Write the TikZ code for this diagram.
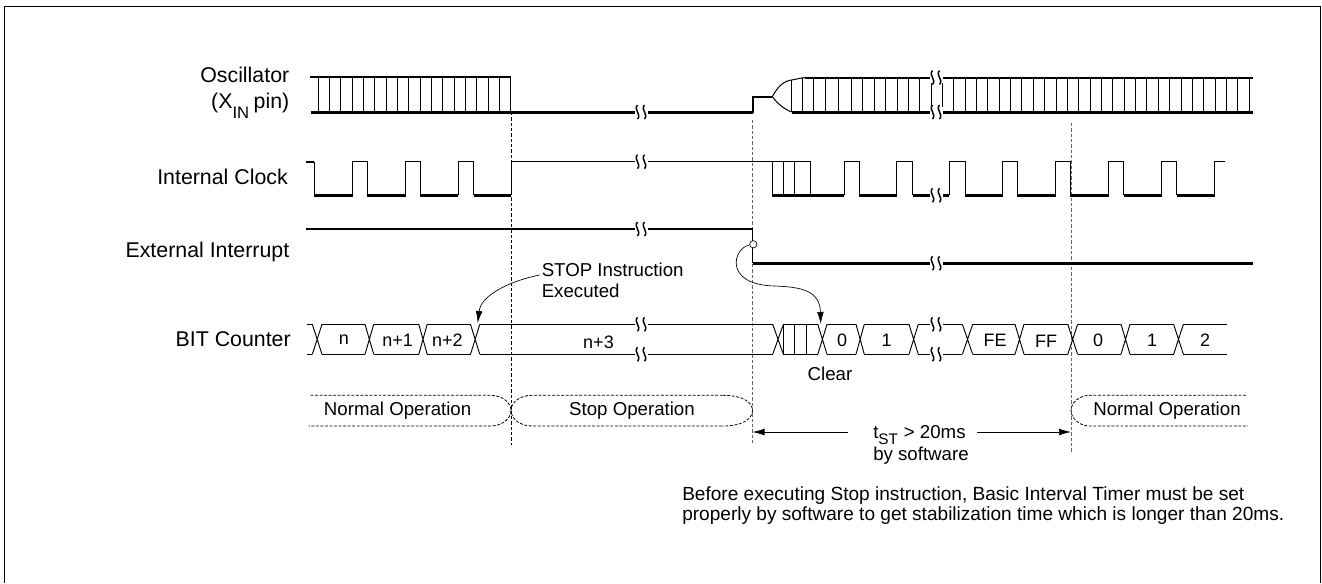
\documentclass[tikz,border=0pt]{standalone}
\usepackage{fontspec}
\setmainfont{Liberation Sans}
\usetikzlibrary{arrows.meta, calc}

\newcommand{\wavebreak}[2]{%
    \fill[white] (#1-6,#2-5) rectangle (#1+6.5,#2+5);
    \draw[breakline] (#1-3.5,#2-7) .. controls (#1-8,#2-2) and (#1+1,#2+2) .. (#1-3.5,#2+7);
    \draw[breakline] (#1+3.5,#2-7) .. controls (#1-1,#2-2) and (#1+8,#2+2) .. (#1+3.5,#2+7);
}
\newcommand{\buscross}[3]{%
    \draw[bus] (#1,#2) -- (#3,#2+30) (#1,#2+30) -- (#3,#2);
}

\begin{document}
\begin{tikzpicture}[
        x=0.75pt, y=-0.75pt,
        every node/.style={font=\fontsize{14}{16}\selectfont, inner sep=0pt},
        thin line/.style={line width=0.75pt},
        thickwave/.style={line width=2.25pt},
        topwave/.style={line width=1.5pt},
        bus/.style={line width=0.7pt},
        breakline/.style={line width=1.1pt},
        guide/.style={line width=0.5pt, dash pattern=on 2.5pt off 1.5pt},
        opline/.style={line width=0.6pt, dash pattern=on 2.2pt off 1.2pt},
        arrow/.style={-{Latex[length=9pt,width=5pt]}, line width=0.5pt},
        siglabel/.style={anchor=east, align=right, font=\fontsize{16}{18}\selectfont},
        buslabel/.style={font=\fontsize{13.5}{15}\selectfont}
    ]
    \useasboundingbox (0,0) rectangle (1322,583);
    \draw[line width=0.75pt] (4.3,583) -- (4.3,6.3) -- (1320.7,6.3) -- (1320.7,583);
%
    % signal names
    \node[siglabel] (osc) at (289.5,75) {Oscillator};
    \node[siglabel, anchor=base east] (xin) at (289.5,108) {(X\textsubscript{\raisebox{-0.9ex}{\fontsize{12.5}{14}\selectfont IN}}\hspace{-0.1em} pin)};
    \node[siglabel] (intclk) at (288,177) {Internal Clock};
    \node[siglabel] (extint) at (289.5,252) {External Interrupt};
    \node[siglabel] (bit) at (291,339) {BIT Counter};
%
    % guides
    \draw[guide] (511,112) -- (511,445);
    \draw[guide, gray!80!black] (752.5,120) -- (752.5,445);
    \draw[guide, gray!80!black] (1071,123) -- (1071,453);
%
    % oscillator
    \foreach \i in {0,...,17} {
        \draw[thin line] ({318+11.35*\i},76.5) -- ({318+11.35*\i},112);
    }
    \draw[topwave] (310,76.5) -- (511,76.5);
    \draw[thickwave] (311,112) -- (752.5,112);
    \wavebreak{641}{112}
    \draw[topwave] (752.5,113) -- (752.5,96.7) -- (772.3,96.7);
    \draw[thin line] (772.3,96.7) .. controls (778,86) and (784,81) .. (791.7,80) .. controls (797,79) and (801,78) .. (805,77.5);
    \draw[thin line] (772.3,96.7) .. controls (778,104) and (784,109) .. (791.7,112);
    \foreach \x/\t in {791.7/80,802.7/78,813.3/77.5,825.3/77.5,838.3/77.5,851.3/77.5,862.3/77.5,874.3/77.5,885.3/77.5,897/77.5,908.3/77.5,919.3/77.5,931.3/77.5} {
        \draw[thin line] (\x,\t) -- (\x,112);
    }
    \foreach \i in {0,...,27} {
        \draw[thin line] ({942.3+11.37*\i},77.5) -- ({942.3+11.37*\i},112);
    }
    \draw[topwave] (805,77.5) -- (1253,77.5);
    \draw[thickwave] (791.7,112) -- (1253,112);
    \wavebreak{936}{77.5}
    \wavebreak{936}{112}
%
    % internal clock
    \draw[topwave] (306,161.7) -- (314.4,161.7);
    \draw[thin line] (314.4,161.7) -- (314.4,195.3) (352.7,195.3) |- (367.4,161.7) -- (367.4,195.3)
        (405.7,195.3) |- (420,161.7) -- (420,195.3) (458.3,195.3) |- (473.5,161.7) -- (473.5,195.3)
        (511,195.3) |- (772.3,161.7) -- (772.3,195.3);
    \foreach \a/\b in {314.4/352.7,367.4/405.7,420/458.3,473.5/511} {
        \draw[thickwave] (\a,195.3) -- (\b,195.3);
    }
    \wavebreak{641}{161.7}
    \draw[thin line] (783.3,161.7) -- (783.3,195.3) (794.3,161.7) -- (794.3,195.3);
    \draw[thin line] (772.3,161.7) -| (810.3,195.3) (844,195.3) |- (859.3,161.7) -- (859.3,195.3)
        (896.7,195.3) |- (912.7,161.7) -- (912.7,195.3) (949.3,195.3) |- (965,161.7) -- (965,195.3)
        (1002.6,195.3) |- (1017.3,161.7) -- (1017.3,195.3) (1055.7,195.3) |- (1070.4,161.7) -- (1070.4,195.3)
        (1108.8,195.3) |- (1123.6,161.7) -- (1123.6,195.3) (1161.5,195.3) |- (1176.7,161.7) -- (1176.7,195.3)
        (1214.6,195.3) |- (1225.4,161.7);
    \foreach \a/\b in {772.3/844,859.3/896.7,912.7/949.3,965/1002.6,1017.3/1055.7,1070.4/1108.8,1123.6/1161.5,1176.7/1214.6} {
        \draw[thickwave] (\a,195.3) -- (\b,195.3);
    }
    \wavebreak{936}{195.3}
%
    % external interrupt
    \draw[topwave] (306,229) -- (752.5,229);
    \wavebreak{641}{229}
    \draw[thin line] (752.5,229) -- (752.5,263.3);
    \draw[thickwave] (752.5,263.3) -- (1253,263.3);
    \wavebreak{936}{263.3}
    \node[circle, draw, fill=white, line width=0.5pt, minimum size=5.5pt] (edge) at (753.3,244.3) {};
%
    % bit counter
    \draw[bus] (307,324.3) -- (312.3,324.3) (307,354.3) -- (312.3,354.3);
    \foreach \a/\b in {322/365,373.7/418.8,427.2/470.5,479.8/772.7,783.4/817.8,827/856,864.3/909,918.3/962.4,972.7/1015,1024/1067.8,1077.6/1121,1130/1173.6,1183.4/1227} {
        \draw[bus] (\a,324.3) -- (\b,324.3) (\a,354.3) -- (\b,354.3);
    }
    \foreach \a/\b in {312.3/322,365/373.7,418.8/427.2,470.5/479.8,772.7/783.4,817.8/827,856/864.3,909/918.3,962.4/972.7,1015/1024,1067.8/1077.6,1121/1130,1173.6/1183.4} {
        \buscross{\a}{324.3}{\b}
    }
    \draw[bus] (783.4,324.3) -- (783.4,354.3) (794.5,324.3) -- (794.5,354.3) (806.4,324.3) -- (806.4,354.3);
    \wavebreak{641}{324.3}
    \wavebreak{641}{354.3}
    \wavebreak{936}{324.3}
    \wavebreak{936}{354.3}
%
    \node[buslabel] (vn) at (344,340) {n};
    \node[buslabel] (vna) at (397.7,340) {n+1};
    \node[buslabel] (vnb) at (447.4,340) {n+2};
    \node[buslabel] (vnc) at (598.5,342.5) {n+3};
    \node[buslabel] (vza) at (842,340) {0};
    \node[buslabel] (vaa) at (886.5,340) {1};
    \node[buslabel] (vfe) at (995,340) {FE};
    \node[buslabel] (vff) at (1046,341.5) {FF};
    \node[buslabel] (vzb) at (1098,340) {0};
    \node[buslabel] (vab) at (1152,340) {1};
    \node[buslabel] (vtwo) at (1205,340) {2};
    \node (clear) at (830,374) {Clear};
%
    % stop instruction
    \node[anchor=west] (stoptxt) at (541.5,270) {STOP Instruction};
    \node[anchor=west] (exectxt) at (541.5,291) {Executed};
    \coordinate (stoptip) at (477.7,323);
    \draw[arrow] (stoptxt.west) ++(-2,5) .. controls (510,281) and (481,295) .. (stoptip);
    \coordinate (cleartip) at (820.7,324);
    \draw[arrow] (edge) .. controls (733,248) and (723,285) .. (775,286) .. controls (800,287) and (820,290) .. (cleartip);
%
    % operation bands
    \draw[opline] (310.5,395.3) -- (490,395.3) .. controls (503,395.3) and (511,403) .. (511,410.5) .. controls (511,418) and (503,426) .. (490,426) -- (308.5,426);
    \draw[opline] (722.7,395.3) -- (532,395.3) .. controls (519,395.3) and (511,403) .. (511,410.5) .. controls (511,418) and (519,426) .. (532,426) -- (722.7,426);
    \draw[opline] (722.7,395.3) .. controls (744,395.3) and (752.5,403) .. (752.5,410.5) .. controls (752.5,418) and (744,426) .. (722.7,426);
    \draw[opline] (1246,395.3) -- (1090,395.3) .. controls (1079,395.3) and (1071,403) .. (1071,410.5) .. controls (1071,418) and (1079,426) .. (1090,426) -- (1248,426);
    \node (normala) at (397.6,411) {Normal Operation};
    \node (stopop) at (632,411) {Stop Operation};
    \node (normalb) at (1167,411) {Normal Operation};
%
    % stabilization time
    \node[anchor=base west] (tst) at (873,438.5) {t\textsubscript{\raisebox{-0.4ex}{\fontsize{11.5}{13}\selectfont ST}} > 20ms};
    \node[anchor=base west] (bysw) at (873,460.5) {by software};
    \coordinate (tstleft) at (752.5,432);
    \coordinate (tstright) at (1071,432);
    \draw[arrow] (847.7,432) -- (tstleft);
    \draw[arrow] (977,432) -- (tstright);
%
    \node[anchor=west, align=left, font=\fontsize{14.3}{15}\selectfont] (note) at (682,506) {Before executing Stop instruction, Basic Interval Timer must be set\\properly by software to get stabilization time which is longer than 20ms.};
    \end{tikzpicture}
\end{document}
